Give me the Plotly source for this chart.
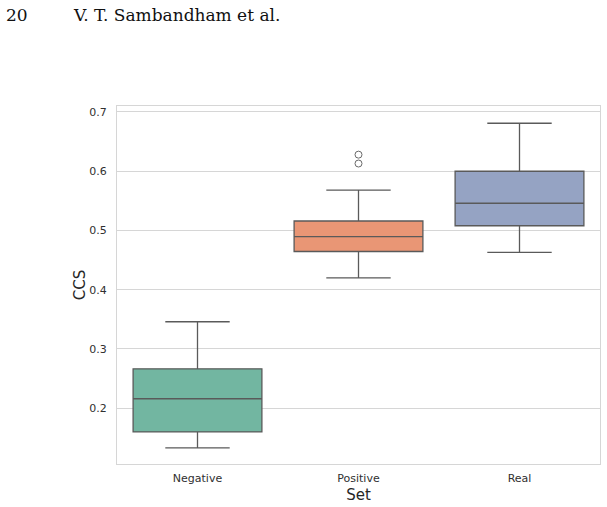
import plotly.graph_objects as go

# Data
categories = ["Negative", "Positive", "Real"]
q1 = [0.160, 0.4645, 0.508]
median = [0.216, 0.4895, 0.546]
q3 = [0.2665, 0.516, 0.600]
lower_whisker = [0.133, 0.420, 0.463]
upper_whisker = [0.346, 0.568, 0.681]
outlier_cat = ["Positive", "Positive"]
outlier_val = [0.628, 0.613]
colors = ["#72b6a1", "#e99675", "#95a3c3"]
y_ticks = [0.2, 0.3, 0.4, 0.5, 0.6, 0.7]

W, H = 607, 507
L, R, T, B = 117, 6, 106, 41
pw, ph = W - L - R, H - T - B

fig = go.Figure()
for i, c in enumerate(categories):
    fig.add_trace(go.Box(
        x=[c], q1=[q1[i]], median=[median[i]], q3=[q3[i]],
        lowerfence=[lower_whisker[i]], upperfence=[upper_whisker[i]],
        fillcolor=colors[i], line=dict(color="#5a5a5a", width=1.3),
        width=0.8, whiskerwidth=0.5, boxpoints=False, showlegend=False,
        hoverinfo="skip",
    ))

fig.add_trace(go.Scatter(
    x=outlier_cat, y=outlier_val, mode="markers",
    marker=dict(symbol="circle-open", size=7, color="#6a6a6a", line=dict(width=1)),
    showlegend=False, hoverinfo="skip",
))

fig.update_layout(
    width=W, height=H,
    margin=dict(l=L, r=R, t=T, b=B, pad=0),
    paper_bgcolor="white", plot_bgcolor="white",
    font=dict(family="DejaVu Sans", color="#303030"),
    xaxis=dict(
        categoryorder="array", categoryarray=categories,
        range=[-0.5, 2.5], showgrid=False, zeroline=False,
        showline=True, linecolor="#d6d6d6", linewidth=1, mirror=True,
        ticks="outside", ticklen=4, tickcolor="rgba(0,0,0,0)",
        tickfont=dict(size=11, color="#303030"),
        title=dict(text="Set", font=dict(size=15, color="#262626"), standoff=5),
    ),
    yaxis=dict(
        range=[0.1059, 0.7101], tickvals=y_ticks,
        ticktext=[f"{v:.1f}" for v in y_ticks],
        showgrid=True, gridcolor="#d6d6d6", gridwidth=1, zeroline=False,
        showline=True, linecolor="#d6d6d6", linewidth=1, mirror=True,
        ticks="outside", ticklen=7, tickcolor="rgba(0,0,0,0)",
        tickfont=dict(size=11, color="#303030"),
        title=dict(text="CCS", font=dict(size=15, color="#262626"), standoff=0),
    ),
    annotations=[
        dict(text="20", xref="paper", yref="paper",
             x=(4 - L) / pw, y=(H - B - 14) / ph, xanchor="left", yanchor="middle",
             showarrow=False, font=dict(family="DejaVu Serif", size=17, color="#111111")),
        dict(text="V. T. Sambandham et al.", xref="paper", yref="paper",
             x=(71 - L) / pw, y=(H - B - 14) / ph, xanchor="left", yanchor="middle",
             showarrow=False, font=dict(family="DejaVu Serif", size=17, color="#111111")),
    ],
)

fig.write_html("out.html")
